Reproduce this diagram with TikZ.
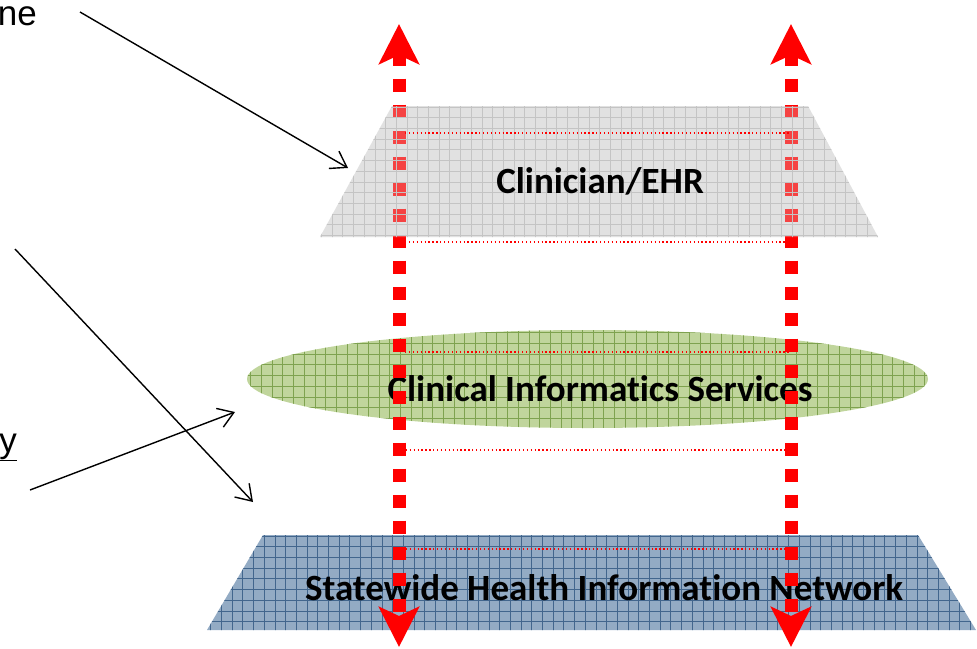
\documentclass[tikz,border=0pt]{standalone}
\usepackage{fontspec}
\setmainfont{Carlito}[Ligatures=NoCommon]
\newfontfamily\arialfont{Liberation Sans}
\usetikzlibrary{arrows.meta}

\definecolor{ehrfill}{HTML}{E1E1E1}
\definecolor{ehrline}{HTML}{C4C4C4}
\definecolor{cisfill}{HTML}{C0D59C}
\definecolor{cisline}{HTML}{7EA24F}
\definecolor{netfill}{HTML}{93ABC4}
\definecolor{netline}{HTML}{42668D}

\begin{document}
\begin{tikzpicture}[x=1pt, y=-1pt, line join=miter,
	layertext/.style={font=\fontsize{37}{44}\selectfont\bfseries, inner sep=0pt},
	sidetext/.style={font=\arialfont\fontsize{35}{42}\selectfont, inner sep=0pt},
	flow/.style={red, line width=13pt, dash pattern=on 13pt off 13pt,
		{Stealth[length=40pt,width=40pt,inset=9pt]}-{Stealth[length=40pt,width=40pt,inset=9pt]}},
	link/.style={red, line width=1.3pt, dash pattern=on 1.3pt off 2.6pt},
	pointer/.style={-{Straight Barb[length=15pt,width=20pt]}, line width=1.4pt}]

\useasboundingbox (0,0) rectangle (977,648);

% ==== layers ====
% clinician / EHR
\begin{scope}
	\clip (392,106) -- (808,106) -- (878,237) -- (320,237) -- cycle;
	\fill[ehrfill] (300,100) rectangle (900,240);
\end{scope}

% clinical informatics services
\begin{scope}
	\clip (587.5,379) ellipse (340.5 and 49);
	\fill[cisfill] (240,320) rectangle (935,435);
	\foreach \gx in {240,250.7,...,935}
		\draw[cisline, line width=0.8pt] (\gx,320) -- (\gx,435);
	\foreach \gy in {322,332.7,...,435}
		\draw[cisline, line width=0.8pt] (240,\gy) -- (935,\gy);
\end{scope}

% statewide network
\begin{scope}
	\clip (263,535) -- (918,535) -- (976,630) -- (207,630) -- cycle;
	\fill[netfill] (200,530) rectangle (980,635);
	\foreach \gx in {200,210.7,...,980}
		\draw[netline, line width=0.8pt] (\gx,530) -- (\gx,635);
	\foreach \gy in {536,546.7,...,635}
		\draw[netline, line width=0.8pt] (200,\gy) -- (980,\gy);
\end{scope}

\node[layertext] (cis) at (600,389) {Clinical Informatics Services};
\node[layertext] (shin) at (604,588) {Statewide Health Information Network};

% ==== data flows ====
\coordinate (lt) at (399,24);
\coordinate (lb) at (399,647);
\coordinate (rt) at (791,24);
\coordinate (rb) at (791,647);
\draw[flow] (lt) -- (lb);
\draw[flow] (rt) -- (rb);

% gray layer lies over the flows
\begin{scope}
	\clip (392,106) -- (808,106) -- (878,237) -- (320,237) -- cycle;
	\fill[ehrfill, fill opacity=0.3] (300,100) rectangle (900,240);
	\foreach \gx in {300,310.7,...,900}
		\draw[ehrline, line width=0.8pt] (\gx,100) -- (\gx,240);
	\foreach \gy in {107,117.7,...,240}
		\draw[ehrline, line width=0.8pt] (300,\gy) -- (900,\gy);
\end{scope}
\node[layertext] (ehr) at (600,181) {Clinician/EHR};

% dotted links between the flows
\foreach \ly/\lx in {133/405, 242/405, 352/405, 450/398, 549/398}
	\draw[link] (\lx,\ly) -- (790,\ly);

% ==== side notes ====
\node[sidetext, anchor=base east] (tne) at (37,25) {ne};
\node[sidetext, anchor=base east] (ty) at (17,452) {\underline{y}};

\coordinate (p1) at (80,12);
\coordinate (q1) at (348,168);
\coordinate (p2) at (15,249);
\coordinate (q2) at (253,502);
\coordinate (p3) at (30,490);
\coordinate (q3) at (235,412);
\draw[pointer] (p1) -- (q1);
\draw[pointer] (p2) -- (q2);
\draw[pointer] (p3) -- (q3);

\end{tikzpicture}
\end{document}
